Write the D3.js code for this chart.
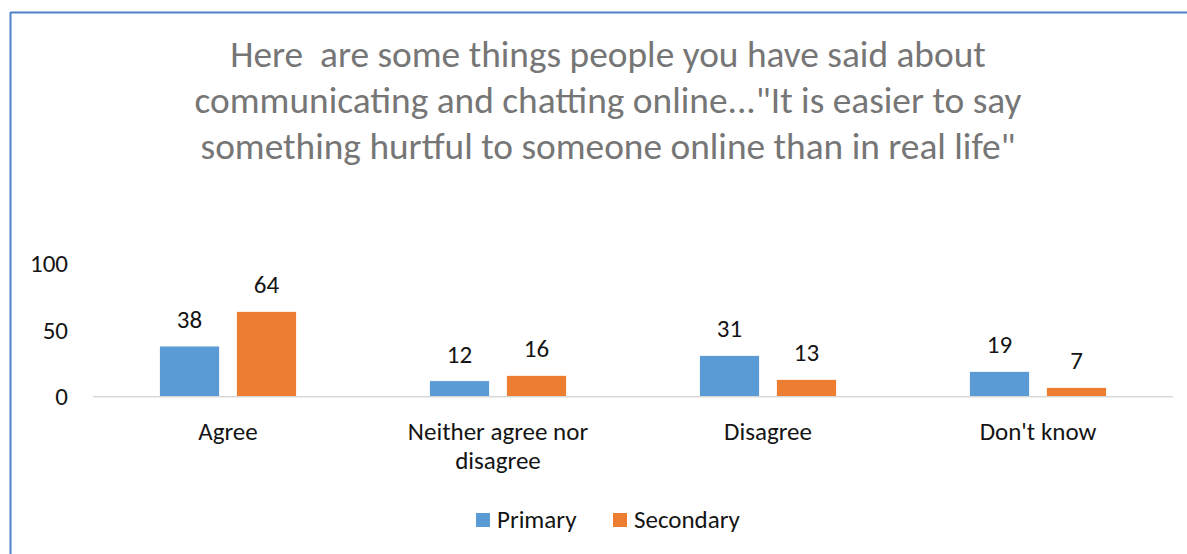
<!DOCTYPE html>
<html>
<head>
<meta charset="utf-8">
<script src="https://cdn.jsdelivr.net/npm/d3@7"></script>
<style>
  html, body { margin: 0; padding: 0; background: #fff; }
  svg { display: block; }
  text { font-family: Carlito, Calibri, Lato, "Open Sans", sans-serif; white-space: pre; }
</style>
</head>
<body>
<svg id="chart" width="1187" height="554"></svg>
<script>
// Survey responses (%) by school phase
const categories = ["Agree", "Neither agree nor disagree", "Disagree", "Don't know"];
const categoryLines = [["Agree"], ["Neither agree nor", "disagree"], ["Disagree"], ["Don't know"]];
const seriesNames = ["Primary", "Secondary"];
const primaryValues = [38, 12, 31, 19];
const secondaryValues = [64, 16, 13, 7];
const yTicks = [0, 50, 100];
const titleLines = [
  "Here  are some things people you have said about",
  "communicating and chatting online...\"It is easier to say",
  "something hurtful to someone online than in real life\""
];
const colors = ["#5b9bd5", "#ed7d31"];
const labelSize = 25;
const ink = "#141414";

const svg = d3.select("#chart");

// Frame lines (top and left edges)
svg.append("line").attr("x1", 10.5).attr("x2", 1187).attr("y1", 12.5).attr("y2", 12.5)
  .attr("stroke", "#4f81c7").attr("stroke-width", 2);
svg.append("line").attr("x1", 10.5).attr("x2", 10.5).attr("y1", 12).attr("y2", 554)
  .attr("stroke", "#4f81c7").attr("stroke-width", 2);

// Title
const title = svg.append("g").attr("class", "title");
titleLines.forEach((t, i) => {
  title.append("text")
    .attr("x", 608).attr("y", 67 + i * 46)
    .attr("text-anchor", "middle")
    .attr("fill", "#767676")
    .attr("font-size", 32)
    .text(t);
});
// scale title font so the widest line spans its intended width
const tNodes = title.selectAll("text").nodes();
const w2 = tNodes[1].getComputedTextLength();
title.selectAll("text").attr("font-size", 32 * 827 / w2);

const plot = { left: 93, right: 1173, top: 263.4, bottom: 396.7 };

const x0 = d3.scaleBand().domain(categories).range([plot.left, plot.right]);
const y = d3.scaleLinear().domain([0, 100]).range([plot.bottom, plot.top]);

const barW = 60, gap = 17;
const x1 = d3.scaleBand().domain(seriesNames)
  .range([-(barW + gap / 2), barW + gap / 2])
  .paddingInner(gap / (barW + gap)).paddingOuter(0);

// Y axis labels
const yAxis = d3.axisLeft(y).tickValues(yTicks).tickSize(0).tickPadding(0);
const yg = svg.append("g").attr("transform", `translate(68,0)`).call(yAxis);
yg.select(".domain").remove();
yg.selectAll("text").attr("font-size", labelSize).attr("fill", ink)
  .attr("font-family", "Carlito, Calibri, Lato, 'Open Sans', sans-serif");

// Bars
const data = categories.map((c, i) => ({ cat: c, vals: [primaryValues[i], secondaryValues[i]] }));
const groups = svg.selectAll("g.grp").data(data).join("g")
  .attr("class", "grp")
  .attr("transform", d => `translate(${x0(d.cat) + x0.bandwidth() / 2},0)`);

const pts = d => d.vals.map((v, j) => ({ v, s: seriesNames[j], j }));

groups.selectAll("rect").data(pts).join("rect")
  .attr("x", d => x1(d.s))
  .attr("width", x1.bandwidth())
  .attr("y", d => y(d.v))
  .attr("height", d => y(0) - y(d.v))
  .attr("fill", d => colors[d.j])
  .attr("stroke", "#fff").attr("stroke-width", 0.8);

groups.selectAll("text.val").data(pts).join("text")
  .attr("class", "val")
  .attr("x", d => x1(d.s) + x1.bandwidth() / 2)
  .attr("y", d => y(d.v) - 18)
  .attr("text-anchor", "middle")
  .attr("font-size", labelSize)
  .attr("fill", ink)
  .text(d => d.v);

// X baseline
svg.append("line").attr("x1", plot.left).attr("x2", plot.right)
  .attr("y1", plot.bottom).attr("y2", plot.bottom)
  .attr("stroke", "#d9d9d9").attr("stroke-width", 1.5);

// Category labels
categoryLines.forEach((lines, i) => {
  const cx = x0(categories[i]) + x0.bandwidth() / 2;
  lines.forEach((ln, k) => {
    svg.append("text")
      .attr("x", cx).attr("y", 440 + k * 29)
      .attr("text-anchor", "middle")
      .attr("font-size", labelSize)
      .attr("fill", ink)
      .text(ln);
  });
});

// Legend
const legend = svg.append("g");
const legendItems = [{ name: seriesNames[0], x: 476 }, { name: seriesNames[1], x: 613 }];
legendItems.forEach((it, i) => {
  legend.append("rect").attr("x", it.x).attr("y", 513).attr("width", 14).attr("height", 14)
    .attr("fill", colors[i]);
  legend.append("text").attr("x", it.x + 21).attr("y", 528)
    .attr("font-size", labelSize).attr("fill", ink).text(it.name);
});
</script>
</body>
</html>
